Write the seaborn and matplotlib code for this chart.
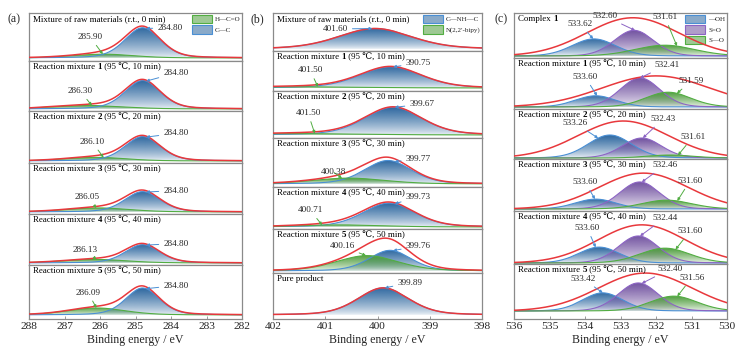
import numpy as np
import pandas as pd
import matplotlib
matplotlib.use("Agg")
import matplotlib.pyplot as plt
import seaborn as sns
from matplotlib.patches import Polygon, Patch
from matplotlib.colors import LinearSegmentedColormap, to_rgb

# ======================= DATA =======================
# peak = (center eV, height as fraction of row, FWHM eV); Gaussian-Lorentzian mix per panel
# ---- panel (a): C 1s ----
a_titles = [("Mixture of raw materials (r.t., 0 min)", "", ""),
            ("Reaction mixture ", "1", " (95 \u2103, 10 min)"),
            ("Reaction mixture ", "2", " (95 \u2103, 20 min)"),
            ("Reaction mixture ", "3", " (95 \u2103, 30 min)"),
            ("Reaction mixture ", "4", " (95 \u2103, 40 min)"),
            ("Reaction mixture ", "5", " (95 \u2103, 50 min)")]
a_cc_center = [284.80, 284.80, 284.80, 284.80, 284.80, 284.80]
a_cc_height = [0.63, 0.57, 0.47, 0.40, 0.36, 0.50]
a_cc_fwhm = [1.18, 1.18, 1.18, 1.18, 1.15, 1.12]
a_hco_center = [285.90, 286.30, 286.10, 286.05, 286.13, 286.09]
a_hco_height = [0.08, 0.07, 0.07, 0.08, 0.07, 0.13]
a_hco_fwhm = [2.00, 2.30, 2.00, 2.10, 2.10, 1.90]
a_eta = 0.30
a_cc_labels = ["284.80", "284.80", "284.80", "284.80", "284.80", "284.80"]
a_hco_labels = ["285.90", "286.30", "286.10", "286.05", "286.13", "286.09"]
a_ticks = [288, 287, 286, 285, 284, 283, 282]
a_legend = ["H\u2014C=O", "C\u2014C"]

# ---- panel (b): N 1s ----
b_titles = [("Mixture of raw materials (r.t., 0 min)", "", ""),
            ("Reaction mixture ", "1", " (95 \u2103, 10 min)"),
            ("Reaction mixture ", "2", " (95 \u2103, 20 min)"),
            ("Reaction mixture ", "3", " (95 \u2103, 30 min)"),
            ("Reaction mixture ", "4", " (95 \u2103, 40 min)"),
            ("Reaction mixture ", "5", " (95 \u2103, 50 min)"),
            ("Pure product", "", "")]
b_nh_center = [400.05, 399.75, 399.70, 399.80, 399.78, 399.76, 399.89]
b_nh_height = [0.54, 0.53, 0.59, 0.48, 0.57, 0.47, 0.59]
b_nh_fwhm = [1.65, 1.40, 1.30, 1.06, 1.18, 0.95, 1.15]
b_bipy_center = [401.50, 401.50, 401.50, 400.55, 400.71, 400.20, 400.00]
b_bipy_height = [0.00, 0.03, 0.03, 0.12, 0.05, 0.35, 0.00]
b_bipy_fwhm = [2.40, 2.80, 2.80, 1.65, 1.90, 1.40, 2.40]
b_eta = 0.30
b_nh_labels = ["401.60", "390.75", "399.67", "399.77", "399.73", "399.76", "399.89"]
b_bipy_labels = ["", "401.50", "401.50", "400.38", "400.71", "400.16", ""]
b_ticks = [402, 401, 400, 399, 398]
b_legend = ["C\u2014NH\u2014C", "N(2,2\u2032-bipy)"]

# ---- panel (c): O 1s ----
c_titles = [("Complex ", "1", ""),
            ("Reaction mixture ", "1", " (95 \u2103, 10 min)"),
            ("Reaction mixture ", "2", " (95 \u2103, 20 min)"),
            ("Reaction mixture ", "3", " (95 \u2103, 30 min)"),
            ("Reaction mixture ", "4", " (95 \u2103, 40 min)"),
            ("Reaction mixture ", "5", " (95 \u2103, 50 min)")]
c_oh_center = [533.75, 533.70, 533.30, 533.70, 533.60, 533.50]
c_oh_height = [0.38, 0.22, 0.46, 0.19, 0.30, 0.33]
c_oh_fwhm = [1.45, 1.35, 1.45, 1.35, 1.35, 1.35]
c_sdo_center = [532.62, 532.45, 532.40, 532.46, 532.50, 532.50]
c_sdo_height = [0.57, 0.57, 0.40, 0.52, 0.51, 0.51]
c_sdo_fwhm = [1.31, 1.32, 1.30, 1.32, 1.32, 1.32]
c_so_center = [531.75, 531.66, 531.61, 531.70, 531.75, 531.50]
c_so_height = [0.24, 0.29, 0.06, 0.17, 0.28, 0.27]
c_so_fwhm = [1.97, 1.50, 1.50, 1.65, 1.65, 1.55]
c_eta = 0.10
c_env_center = [532.65, 532.00, 532.92, 532.35, 532.40, 532.30]
c_env_height = [0.85, 0.61, 0.74, 0.69, 0.72, 0.69]
c_env_fwhm = [3.05, 3.60, 3.00, 2.95, 2.90, 3.10]
c_oh_labels = ["533.62", "533.60", "533.26", "533.60", "533.60", "533.42"]
c_sdo_labels = ["532.60", "532.41", "532.43", "532.46", "532.44", "532.40"]
c_so_labels = ["531.61", "531.59", "531.61", "531.60", "531.60", "531.56"]
c_ticks = [536, 535, 534, 533, 532, 531, 530]
c_legend = ["\u2014OH", "S=O", "S\u2014O"]

# ======================= LAYOUT / STYLE =======================
W, H = 749, 358
A_X, A_ROWS, A_BASE = (29, 242), [13, 61, 111, 163, 214, 265, 319], [3, 2, 2, 2, 2, 4]
B_X, B_ROWS, B_BASE = (273, 482), [13, 51, 91, 138, 187, 229, 273, 319], [2, 3, 3, 3, 2, 2, 4]
C_X, C_ROWS, C_BASE = (514, 727), [13, 58, 109, 159, 211, 264, 319], [2, 2, 1, 2, 1, 8]

# label text positions (x in eV, y in axes fraction) and arrow target x
A_MAIN_POS = [(284.03, 0.69, 284.70), (283.86, 0.76, 284.70), (283.86, 0.57, 284.70),
              (283.86, 0.46, 284.70), (283.86, 0.42, 284.70), (283.86, 0.62, 284.70)]
A_SIDE_POS = [(286.28, 0.50, 285.92), (286.56, 0.40, 286.23), (286.23, 0.41, 285.90),
              (286.37, 0.33, 286.10), (286.42, 0.30, 286.10), (286.34, 0.49, 286.10)]
B_MAIN_POS = [(400.81, 0.58, 400.10), (399.22, 0.69, 399.70), (399.15, 0.72, 399.67),
              (399.22, 0.57, 399.67), (399.22, 0.76, 399.67), (399.22, 0.61, 399.70),
              (399.38, 0.79, 399.86)]
B_SIDE_POS = [None, (401.29, 0.52, 401.14), (401.33, 0.53, 401.20), (400.85, 0.31, 400.68),
              (401.29, 0.45, 401.06), (400.68, 0.61, 400.22), None]
C_OH_POS = [(534.14, 0.76, 533.77), (534.00, 0.63, 533.66), (534.28, 0.72, 533.63),
            (534.00, 0.56, 533.72), (533.94, 0.68, 533.70), (534.06, 0.73, 533.50)]
C_SDO_POS = [(533.44, 0.93, 532.59), (531.69, 0.86, 532.45), (531.80, 0.80, 532.37),
             (531.75, 0.88, 532.40), (531.75, 0.87, 532.45), (531.60, 0.91, 532.40)]
C_SO_POS = [(531.75, 0.91, 531.41), (531.00, 0.55, 531.41), (530.96, 0.44, 531.38),
            (531.04, 0.58, 531.40), (531.04, 0.62, 531.45), (530.99, 0.75, 531.40)]

BLUE = ("#2a659e", "#4a8fd4")
GREEN = ("#4f9d3d", "#52ad42")
PURPLE = ("#6e4e9e", "#8c64c4")
RED = "#e8383c"
SPINE = "#8a8a8a"

sns.set_theme(style="white")
plt.rcParams["font.family"] = ["Liberation Serif", "DejaVu Serif", "DejaVu Sans"]

fig = plt.figure(figsize=(W / 100, H / 100), dpi=100)


def profile(x, c, h, fwhm, eta):
    u = 2.0 * (x - c) / fwhm
    return h * ((1 - eta) * np.exp(-np.log(2) * u ** 2) + eta / (1 + u ** 2))


def add_row(xpx, top, bot):
    return fig.add_axes([xpx[0] / W, 1 - bot / H, (xpx[1] - xpx[0]) / W, (bot - top) / H])


def grad_fill(ax, x, y, color, z):
    ymax = y.max()
    if ymax <= 1e-4:
        return
    verts = np.column_stack([np.r_[x, x[::-1]], np.r_[y, np.zeros_like(y)]])
    poly = Polygon(verts, closed=True, facecolor="none", edgecolor="none")
    ax.add_patch(poly)
    r, g, b = to_rgb(color)
    t = np.linspace(0, 1, 64)
    cols = [(r, g, b, 0.07 + 0.91 * v ** 0.75) for v in t]
    cmap = LinearSegmentedColormap.from_list("g", cols)
    grad = np.linspace(0, 1, 200).reshape(-1, 1)
    im = ax.imshow(grad, extent=[x.min(), x.max(), 0, ymax], origin="lower",
                   aspect="auto", cmap=cmap, zorder=z, interpolation="bilinear")
    im.set_clip_path(poly)


def row_title(ax, parts):
    pre, bold, post = parts
    kw = dict(fontsize=6.4, color="black")
    t = ax.annotate(pre, xy=(0, 1), xycoords="axes fraction", xytext=(3, -1.5),
                    textcoords="offset points", ha="left", va="top", zorder=8, **kw)
    if bold:
        t2 = ax.annotate(bold, xy=(1, 0), xycoords=t, ha="left", va="bottom",
                         fontweight="bold", zorder=8, **kw)
        if post:
            ax.annotate(post, xy=(1, 0), xycoords=t2, ha="left", va="bottom", zorder=8, **kw)


def peak_label(ax, text, pos, fn, color):
    tx, ty, px = pos
    ax.annotate(text, xy=(px, fn(px)), xycoords="data", xytext=(tx, ty),
                textcoords=("data", "axes fraction"), ha="center", va="center",
                fontsize=6.6, zorder=9,
                arrowprops=dict(arrowstyle="-|>", color=color, lw=0.7,
                                mutation_scale=4, shrinkA=1, shrinkB=0))


def style_axes(ax, xlim, ylim, ticks, last):
    ax.set_xlim(*xlim)
    ax.set_ylim(*ylim)
    ax.set_yticks([])
    ax.set_xlabel("")
    ax.set_ylabel("")
    for s in ax.spines.values():
        s.set_color(SPINE)
        s.set_linewidth(0.9)
        s.set_visible(True)
    if last:
        ax.set_xticks(ticks)
        ax.set_xticklabels([str(t) for t in ticks])
        ax.tick_params(axis="x", direction="in", length=2.5, width=0.6, color=SPINE,
                       labelsize=8.2, pad=2.5, bottom=True)
        ax.set_xlabel("Binding energy / eV", fontsize=8.6, labelpad=2)
    else:
        ax.set_xticks([])


def draw_panel(xpx, rows, bases, xlim, ticks, comps_per_row, eta, env_per_row, titles):
    axes = []
    n = len(rows) - 1
    x = np.linspace(min(xlim), max(xlim), 700)
    for i in range(n):
        top, bot = rows[i], rows[i + 1]
        h = bot - top
        ax = add_row(xpx, top, bot)
        comps = comps_per_row[i]
        frames = []
        ys = []
        for k, (c, hh, fw, fillc, linec) in enumerate(comps):
            if hh <= 0:
                continue
            y = profile(x, c, hh, fw, eta)
            ys.append(y)
            grad_fill(ax, x, y, fillc, 1 + k)
            frames.append(pd.DataFrame({"x": x, "y": y, "comp": f"c{k}"}))
        if frames:
            df = pd.concat(frames)
            pal = {f"c{k}": comps[k][4] for k in range(len(comps))}
            sns.lineplot(data=df, x="x", y="y", hue="comp", palette=pal, estimator=None,
                         sort=False, lw=0.8, legend=False, ax=ax, zorder=4)
        if env_per_row is None:
            env = np.sum(ys, axis=0)
        else:
            env = profile(x, *env_per_row[i], 0.0)
        sns.lineplot(x=x, y=env, color=RED, lw=1.1, estimator=None, sort=False, ax=ax, zorder=6)
        b = bases[i] / h
        style_axes(ax, xlim, (-b, 1 - b), ticks, i == n - 1)
        row_title(ax, titles[i])
        axes.append(ax)
    return axes


# ---- panel a ----
a_comps = [[(a_hco_center[i], a_hco_height[i], a_hco_fwhm[i], *GREEN),
            (a_cc_center[i], a_cc_height[i], a_cc_fwhm[i], *BLUE)] for i in range(6)]
axA = draw_panel(A_X, A_ROWS, A_BASE, (288, 282), a_ticks, a_comps, a_eta, None, a_titles)
for i, ax in enumerate(axA):
    peak_label(ax, a_cc_labels[i], A_MAIN_POS[i],
               lambda v, i=i: profile(v, a_cc_center[i], a_cc_height[i], a_cc_fwhm[i], a_eta), BLUE[1])
    peak_label(ax, a_hco_labels[i], A_SIDE_POS[i],
               lambda v, i=i: profile(v, a_hco_center[i], a_hco_height[i], a_hco_fwhm[i], a_eta), GREEN[1])

# ---- panel b ----
b_comps = [[(b_nh_center[i], b_nh_height[i], b_nh_fwhm[i], *BLUE),
            (b_bipy_center[i], b_bipy_height[i], b_bipy_fwhm[i], *GREEN)] for i in range(7)]
axB = draw_panel(B_X, B_ROWS, B_BASE, (402, 398), b_ticks, b_comps, b_eta, None, b_titles)
for i, ax in enumerate(axB):
    peak_label(ax, b_nh_labels[i], B_MAIN_POS[i],
               lambda v, i=i: profile(v, b_nh_center[i], b_nh_height[i], b_nh_fwhm[i], b_eta), BLUE[1])
    if B_SIDE_POS[i] is not None:
        peak_label(ax, b_bipy_labels[i], B_SIDE_POS[i],
                   lambda v, i=i: profile(v, b_bipy_center[i], b_bipy_height[i], b_bipy_fwhm[i], b_eta),
                   GREEN[1])

# ---- panel c ----
c_comps = [[(c_oh_center[i], c_oh_height[i], c_oh_fwhm[i], *BLUE),
            (c_sdo_center[i], c_sdo_height[i], c_sdo_fwhm[i], *PURPLE),
            (c_so_center[i], c_so_height[i], c_so_fwhm[i], *GREEN)] for i in range(6)]
c_env = list(zip(c_env_center, c_env_height, c_env_fwhm))
axC = draw_panel(C_X, C_ROWS, C_BASE, (536, 530), c_ticks, c_comps, c_eta, c_env, c_titles)
for i, ax in enumerate(axC):
    peak_label(ax, c_oh_labels[i], C_OH_POS[i],
               lambda v, i=i: profile(v, c_oh_center[i], c_oh_height[i], c_oh_fwhm[i], c_eta), BLUE[1])
    peak_label(ax, c_sdo_labels[i], C_SDO_POS[i],
               lambda v, i=i: profile(v, c_sdo_center[i], c_sdo_height[i], c_sdo_fwhm[i], c_eta), PURPLE[1])
    peak_label(ax, c_so_labels[i], C_SO_POS[i],
               lambda v, i=i: profile(v, c_so_center[i], c_so_height[i], c_so_fwhm[i], c_eta), GREEN[1])

# ---- legends ----
def add_legend(ax, labels, colors):
    handles = [Patch(facecolor=to_rgb(fc) + (0.55,), edgecolor=ec, lw=0.8) for fc, ec in colors]
    ax.legend(handles, labels, loc="upper right", bbox_to_anchor=(1.0, 1.0), frameon=False,
              fontsize=5, handlelength=2.9, handleheight=1.5, handletextpad=0.4,
              labelspacing=0.3, borderpad=0.15, borderaxespad=0.1)

add_legend(axA[0], a_legend, [GREEN, BLUE])
add_legend(axB[0], b_legend, [BLUE, GREEN])
add_legend(axC[0], c_legend, [BLUE, PURPLE, GREEN])

# ---- panel letters ----
for xp, lab in [(14, "(a)"), (257, "(b)"), (501, "(c)")]:
    fig.text(xp / W, 1 - 19 / H, lab, ha="center", va="center", fontsize=8.6)

fig.savefig("out.png", dpi=100, facecolor="white")
